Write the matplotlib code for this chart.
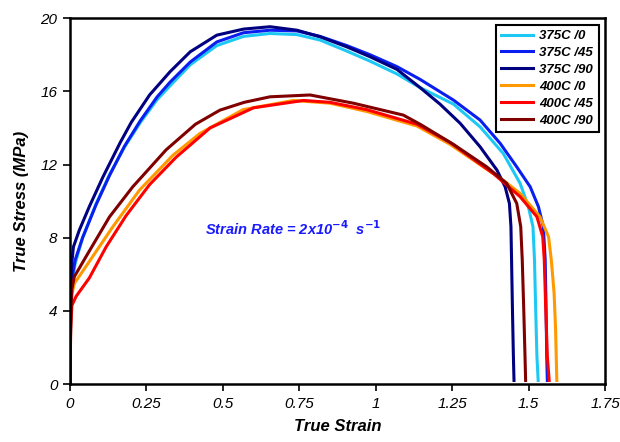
'''
True stress - true strain curves at 375C and 400C
for three orientations (0, 45, 90 deg)
'''
import matplotlib
matplotlib.use('Agg')
import matplotlib.pyplot as plt

plt.rcParams['font.family'] = ['Liberation Sans', 'DejaVu Sans']

#...data (strain, stress in MPa)
s375_0_x = [0, 0.002, 0.006, 0.017, 0.041, 0.085, 0.129, 0.178, 0.23, 0.285, 0.327, 0.393,
            0.48, 0.567, 0.654, 0.742, 0.818, 0.905, 0.981, 1.069, 1.145, 1.254, 1.341,
            1.417, 1.472, 1.499, 1.514, 1.519, 1.523, 1.527, 1.531]
s375_0_y = [0, 4.0, 5.5, 6.6, 8.0, 9.85, 11.45, 12.95, 14.3, 15.55, 16.3, 17.45,
            18.5, 19.0, 19.16, 19.1, 18.8, 18.2, 17.65, 16.95, 16.2, 15.3, 14.06,
            12.6, 10.97, 9.69, 8.6, 6.78, 4.0, 1.5, 0.2]

s375_45_x = [0, 0.002, 0.006, 0.017, 0.041, 0.085, 0.129, 0.178, 0.23, 0.285, 0.327, 0.393,
             0.48, 0.567, 0.654, 0.742, 0.818, 0.905, 0.981, 1.069, 1.145, 1.254, 1.341,
             1.407, 1.461, 1.505, 1.532, 1.548, 1.554, 1.557, 1.559, 1.561]
s375_45_y = [0, 4.0, 5.8, 6.8, 8.0, 9.8, 11.4, 13.0, 14.4, 15.7, 16.5, 17.6,
             18.7, 19.2, 19.34, 19.3, 19.0, 18.5, 18.0, 17.35, 16.65, 15.52, 14.43,
             13.15, 11.87, 10.78, 9.69, 8.6, 6.78, 4.0, 1.5, 0.2]

s375_90_x = [0, 0.002, 0.005, 0.011, 0.030, 0.063, 0.107, 0.164, 0.20, 0.26, 0.327, 0.393,
             0.48, 0.567, 0.654, 0.742, 0.818, 0.905, 0.981, 1.069, 1.145, 1.21, 1.276,
             1.341, 1.396, 1.423, 1.437, 1.442, 1.444, 1.447, 1.450, 1.452]
s375_90_y = [0, 4.0, 6.5, 7.5, 8.4, 9.7, 11.3, 13.2, 14.3, 15.8, 17.07, 18.16,
             19.07, 19.4, 19.53, 19.34, 18.98, 18.43, 17.89, 17.2, 16.2, 15.3, 14.25,
             12.97, 11.7, 10.78, 9.87, 8.6, 6.78, 4.0, 1.5, 0.2]

s400_0_x = [0, 0.002, 0.006, 0.014, 0.063, 0.14, 0.227, 0.336, 0.425, 0.566, 0.73, 0.85,
            0.97, 1.135, 1.243, 1.34, 1.42, 1.472, 1.537, 1.565, 1.574, 1.583, 1.588, 1.592]
s400_0_y = [0, 3.5, 4.9, 5.5, 6.7, 8.6, 10.6, 12.5, 13.7, 15.0, 15.5, 15.35,
            14.9, 14.1, 13.1, 12.0, 11.1, 10.42, 9.14, 8.05, 6.78, 5.0, 3.0, 0.2]

s400_45_x = [0, 0.002, 0.006, 0.02, 0.063, 0.118, 0.183, 0.26, 0.347, 0.458, 0.6, 0.763,
             0.85, 0.97, 1.135, 1.243, 1.385, 1.472, 1.527, 1.546, 1.551, 1.556, 1.561, 1.567]
s400_45_y = [0, 3.0, 4.3, 4.8, 5.8, 7.5, 9.2, 10.9, 12.4, 14.0, 15.1, 15.5,
             15.4, 15.0, 14.2, 13.2, 11.5, 10.24, 9.14, 8.05, 6.78, 4.0, 1.5, 0.2]

s400_90_x = [0, 0.002, 0.006, 0.014, 0.052, 0.129, 0.205, 0.314, 0.41, 0.49, 0.57, 0.654,
             0.785, 0.927, 1.09, 1.145, 1.254, 1.363, 1.428, 1.461, 1.474, 1.479, 1.484,
             1.488, 1.490]
s400_90_y = [0, 3.5, 5.2, 5.87, 6.96, 9.14, 10.78, 12.8, 14.2, 14.97, 15.4, 15.7,
             15.8, 15.35, 14.7, 14.2, 13.1, 11.87, 10.97, 9.87, 8.6, 6.78, 4.0,
             1.5, 0.2]

labels = ['375C /0', '375C /45', '375C /90', '400C /0', '400C /45', '400C /90']
colors = ['#1ec8f5', '#0a1ef0', '#000080', '#ff9900', '#ff0000', '#800000']
xs = [s375_0_x, s375_45_x, s375_90_x, s400_0_x, s400_45_x, s400_90_x]
ys = [s375_0_y, s375_45_y, s375_90_y, s400_0_y, s400_45_y, s400_90_y]

xticks = [0, 0.25, 0.5, 0.75, 1, 1.25, 1.5, 1.75]
xticklabels = ['0', '0.25', '0.5', '0.75', '1', '1.25', '1.5', '1.75']
yticks = [0, 4, 8, 12, 16, 20]

fig = plt.figure(figsize=(6.2, 4.42), dpi=100)
ax = fig.add_axes([0.113, 0.131, 0.863, 0.828])

for x, y, c, lab in zip(xs, ys, colors, labels):
    ax.plot(x, y, color=c, lw=2.2, label=lab, solid_joinstyle='round')

ax.set_xlim(0, 1.75)
ax.set_ylim(0, 20)
ax.set_xticks(xticks)
ax.set_xticklabels(xticklabels, style='italic', fontsize=11)
ax.set_yticks(yticks)
ax.set_yticklabels([str(v) for v in yticks], style='italic', fontsize=11)
ax.tick_params(direction='out', length=5, width=1.2, top=False, right=False, pad=4)
for sp in ax.spines.values():
    sp.set_linewidth(1.8)

ax.set_xlabel('True Strain', fontsize=12, fontweight='bold', style='italic', labelpad=6)
ax.set_ylabel('True Stress (MPa)', fontsize=12, fontweight='bold', style='italic', labelpad=8)

ax.text(0.44, 8.5, r'Strain Rate = 2x10$^{\mathbf{-4}}$  s$^{\mathbf{-1}}$', color='#1a1aff',
        fontsize=10.5, fontweight='bold', style='italic', ha='left', va='center')

leg = ax.legend(loc='upper right', fontsize=9.5, frameon=True, fancybox=False,
                framealpha=1, edgecolor='black', handlelength=2.4, labelspacing=0.35,
                borderaxespad=0.5, borderpad=0.4, handletextpad=0.5)
leg.get_frame().set_linewidth(1.5)
for t in leg.get_texts():
    t.set_fontweight('bold')
    t.set_style('italic')

fig.savefig('out.png', dpi=100)
